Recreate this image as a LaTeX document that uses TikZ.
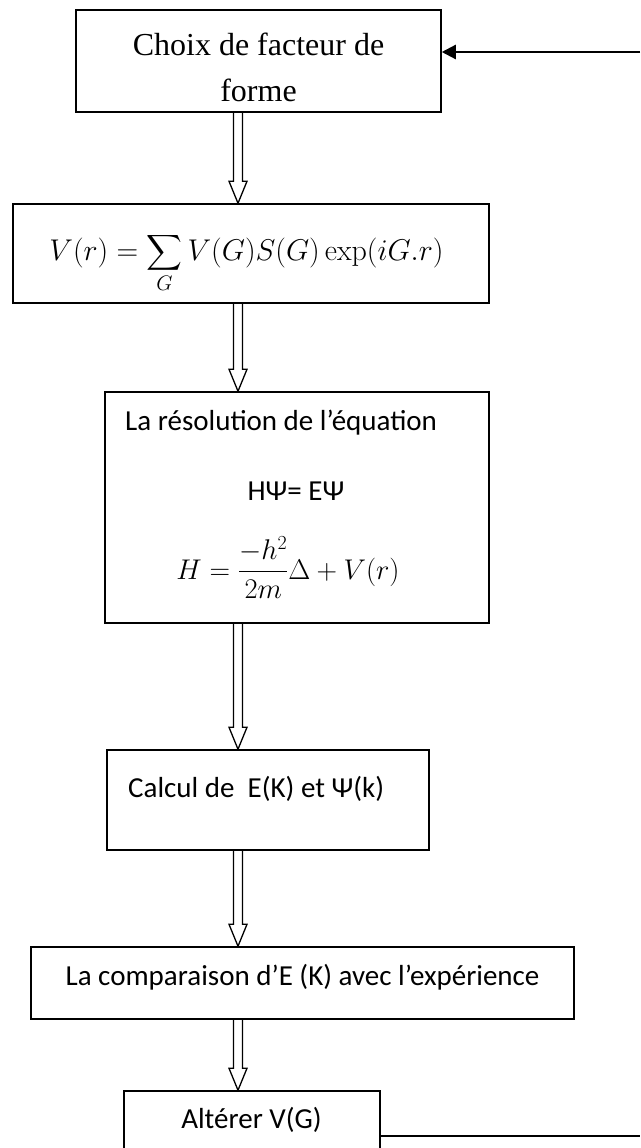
\RequirePackage{fix-cm}
\documentclass[tikz,border=0pt]{standalone}
\usepackage{amsmath}
\usepackage[no-math]{fontspec}
\setmainfont{Carlito}
\newfontfamily\timesfont{Liberation Serif}
\usetikzlibrary{arrows.meta, calc}
\tikzset{
  boite/.style={draw=black, line width=1.5pt, inner sep=0pt,
                minimum width=#1},
  txt/.style={font=\fontsize{29}{34}\selectfont, inner sep=0pt},
  txtserif/.style={font=\timesfont\fontsize{32}{46}\selectfont,
                   align=center, inner sep=0pt},
  formule/.style={font=\fontsize{#1}{34}\selectfont, inner sep=0pt},
  creuse/.style={line width=1.3pt, line join=miter},
  fleche/.style={-{Triangle[length=14pt, width=14pt]}, line width=2.2pt},
  trait/.style={line width=1.5pt},
}
% hollow arrow along the axis, from the bottom of #1 to the top of #2
\newcommand{\flechecreuse}[2]{%
  \draw[creuse] let \p1=(axe |- #1.south), \p2=(axe |- #2.north) in
    (\x1-4.5pt,\y1) -- (\x1-4.5pt,\y2+22pt) -- (\x1-9pt,\y2+22pt)
    -- (\x2,\y2) -- (\x1+9pt,\y2+22pt) -- (\x1+4.5pt,\y2+22pt)
    -- (\x1+4.5pt,\y1);}

\begin{document}
\begin{tikzpicture}[x=1pt, y=1pt]
  \useasboundingbox (0,0) rectangle (640,-1148);
  \clip (0,0) rectangle (640,-1148);
  \coordinate (axe) at (238,0);

  % boxes
  \node[boite=365pt, minimum height=102pt] (choix)   at (258.5,-61)   {};
  \node[boite=476pt, minimum height=99pt]  (somme)   at (251,-253.5)  {};
  \node[boite=384pt, minimum height=231pt] (resol)   at (297,-507.5)  {};
  \node[boite=322pt, minimum height=100pt] (calcul)  at (268,-800)    {};
  \node[boite=543pt, minimum height=72pt]  (compar)  at (302.5,-983)  {};
  \node[boite=256pt, minimum height=74pt]  (alterer) at (252,-1128)   {};

  % texts
  \node[txtserif] (choixtxt) at (258.5,-67.7) {Choix de facteur de\\forme};
  \node[formule=30, anchor=base] (sommetxt) at (246.5,-260)
    {$\displaystyle V(r) = \sum_{G} V(G)S(G)\exp(iG.r)$};
  \node[txt, anchor=base west] (resoltxt) at (125,-430) {La résolution de l’équation};
  \node[txt, anchor=base] (schrod) at (296,-500) {HΨ= EΨ};
  \node[formule=28.5, anchor=base] (hamil) at (288,-579)
    {$\displaystyle H = \frac{-h^{2}}{2m}\Delta + V(r)$};
  \node[txt, anchor=base west] (calcultxt) at (128,-797) {Calcul de~ E(K) et Ψ(k)};
  \node[txt, anchor=base] (compartxt) at (302.5,-985)
    {La comparaison d’E (K) avec l’expérience};
  \node[txt, anchor=base] (alterertxt) at (251.5,-1128) {Altérer V(G)};

  % hollow arrows
  \flechecreuse{choix}{somme}
  \flechecreuse{somme}{resol}
  \flechecreuse{resol}{calcul}
  \flechecreuse{calcul}{compar}
  \flechecreuse{compar}{alterer}

  % loop back
  \coordinate (retour) at (640,-52);
  \draw[fleche] (retour) -- (retour -| choix.east);
  \coordinate (sortie) at (640,-1136);
  \draw[trait] (sortie -| alterer.east) -- (sortie);
\end{tikzpicture}
\end{document}
